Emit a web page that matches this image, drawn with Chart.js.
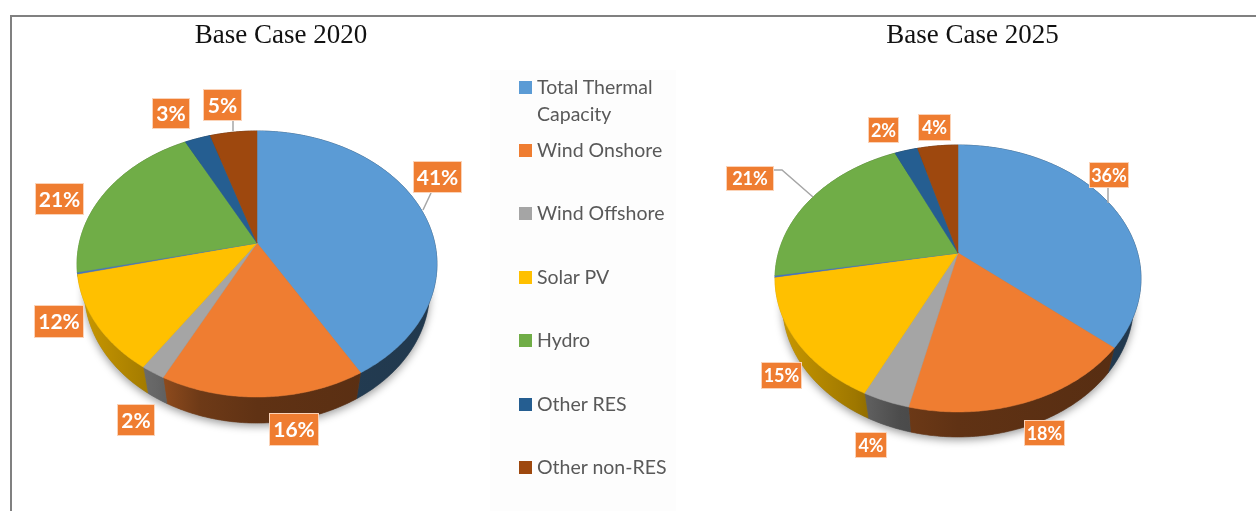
<!DOCTYPE html>
<html>
<head>
<meta charset="utf-8">
<script src="https://cdn.jsdelivr.net/npm/chart.js@4"></script>
<style>
html,body{margin:0;padding:0;background:#fff;width:1256px;height:511px;overflow:hidden}
#frame{position:absolute;left:10px;top:15px;width:1246px;height:496px;border-left:2px solid #808080;border-top:2px solid #808080;box-sizing:border-box}
#legendBg{position:absolute;left:490px;top:70px;width:186px;height:441px;background:#fdfdfd}
canvas{position:absolute;left:0;top:0}
.title{position:absolute;font:27px "Liberation Serif",serif;color:#111;white-space:nowrap;transform:translateX(-50%);line-height:30px}
.sw{position:absolute;left:519px;width:13px;height:13px}
.lg{position:absolute;left:537px;font:19.5px/27px Lato,sans-serif;color:#595959;white-space:nowrap}
</style>
</head>
<body>
<div id="frame"></div>
<div id="legendBg"></div>
<canvas id="c1" width="1256" height="511"></canvas>
<canvas id="c2" width="1256" height="511"></canvas>
<div id="overlay"></div>
<script>
// ---- data ----
const categories = ['Total Thermal Capacity','Wind Onshore','Wind Offshore','Solar PV','(unlabelled sliver)','Hydro','Other RES','Other non-RES'];
const values2020 = [41.6,15.9,1.9,11.9,0.2,20.9,2.7,4.9];
const values2025 = [36.2,17.4,3.5,15.0,0.2,20.95,2.45,4.3];
const labels2020 = ['41%','16%','2%','12%','','21%','3%','5%'];
const labels2025 = ['36%','18%','4%','15%','','21%','2%','4%'];
const colors = ['#5b9bd5','#ef7d31','#a5a5a5','#ffc000','#4472c4','#70ad47','#255e91','#9e480e'];
const titles = ['Base Case 2020','Base Case 2025'];

// ---- layout ----
const boxes2020 = [[413,161,462,193],[269,413,319,446],[117,404,155,436],[34,305,84,338],null,[35,183,84,215],[152,98,190,129],[203,89,242,121]];
const boxes2025 = [[1089,162,1129,188],[1024,420,1065,446],[855,432,887,458],[761,362,802,389],null,[726,166,774,191],[868,117,899,143],[918,114,951,141]];
const leaders2020 = [[[431,193],[423,210]],[[233,121],[233,131]]];
const leaders2025 = [[[1108,188],[1108,203]],[[774,170],[782,170],[813,197]]];
const legendRows = [86,149,212,276,339,403,466];

function rgb(hex,f){
  const n=parseInt(hex.slice(1),16);
  return `rgb(${Math.round((n>>16&255)*f)},${Math.round((n>>8&255)*f)},${Math.round((n&255)*f)})`;
}
const wallStops=[[0,.8],[.22,.62],[.34,.46],[.5,.4],[1,.36]];

const pie3d={
  id:'pie3d',
  beforeDatasetDraw(chart){
    const o=chart.options.plugins.pie3d, ctx=chart.ctx;
    const arcs=chart.getDatasetMeta(0).data;
    const top=a=>{const u=Math.cos(a),v=Math.sin(a),w=1/(1-o.p*v);
      return [o.cx+o.b*u*w,o.cy+o.a*v*w];};
    const low=a=>{const q=top(a);return [o.cx+(q[0]-o.cx)*o.shrink,q[1]+o.depth];};
    const pts=(f,s,e)=>{const n=Math.max(2,Math.ceil((e-s)/0.01)),r=[];
      for(let i=0;i<=n;i++)r.push(f(s+(e-s)*i/n));return r;};
    const trace=l=>l.forEach((q,i)=>i?ctx.lineTo(q[0],q[1]):ctx.moveTo(q[0],q[1]));
    ctx.save();
    // soft shadow under the disc
    ctx.save();
    ctx.shadowColor='rgba(0,0,0,.4)';ctx.shadowBlur=9;ctx.shadowOffsetY=3;ctx.fillStyle='#777';
    ctx.beginPath();trace(pts(low,0,Math.PI*2));ctx.closePath();ctx.fill();
    ctx.restore();
    // side walls
    arcs.forEach((arc,i)=>{
      const s=arc.startAngle,e=arc.endAngle;
      const g=ctx.createLinearGradient(o.cx-o.rx,0,o.cx+o.rx,0);
      wallStops.forEach(t=>g.addColorStop(t[0],rgb(colors[i],t[1])));
      ctx.beginPath();trace(pts(top,s,e).concat(pts(low,s,e).reverse()));ctx.closePath();
      ctx.fillStyle=g;ctx.strokeStyle=g;ctx.lineWidth=.6;ctx.fill();ctx.stroke();
    });
    // top faces
    arcs.forEach((arc,i)=>{
      ctx.beginPath();trace([[o.cx,o.cy]].concat(pts(top,arc.startAngle,arc.endAngle)));ctx.closePath();
      ctx.fillStyle=colors[i];ctx.strokeStyle=colors[i];ctx.lineWidth=.5;ctx.fill();ctx.stroke();
    });
    ctx.restore();
    return false;
  },
  afterDraw(chart){
    const o=chart.options.plugins.pie3d, ctx=chart.ctx;
    ctx.save();
    ctx.strokeStyle='#a6a6a6';ctx.lineWidth=1.5;
    o.leaders.forEach(l=>{ctx.beginPath();l.forEach((q,i)=>i?ctx.lineTo(q[0],q[1]):ctx.moveTo(q[0],q[1]));ctx.stroke();});
    ctx.textAlign='center';ctx.textBaseline='middle';
    ctx.font='bold '+o.font+'px Lato, sans-serif';
    o.boxes.forEach((b,i)=>{
      if(!b)return;
      ctx.fillStyle='#ef7d31';ctx.fillRect(b[0],b[1],b[2]-b[0],b[3]-b[1]);
      ctx.strokeStyle='#fbd3b8';ctx.lineWidth=1;ctx.strokeRect(b[0]+.5,b[1]+.5,b[2]-b[0]-1,b[3]-b[1]-1);
      ctx.fillStyle='#fff';ctx.fillText(o.labels[i],(b[0]+b[2])/2,(b[1]+b[3])/2+1);
    });
    ctx.restore();
  }
};

function makePie(id,values,extra){
  return new Chart(document.getElementById(id),{
    type:'pie',
    data:{labels:categories,datasets:[{data:values,backgroundColor:colors,borderWidth:0}]},
    options:{responsive:false,animation:false,events:[],
      plugins:{legend:{display:false},tooltip:{enabled:false},pie3d:extra}},
    plugins:[pie3d]
  });
}
document.fonts.load('bold 20px Lato').finally(()=>{
  makePie('c1',values2020,{cx:257,cy:243,a:129.7,b:177.7,rx:180,p:.158,depth:26,shrink:.96,
    boxes:boxes2020,leaders:leaders2020,labels:labels2020,font:21});
  makePie('c2',values2025,{cx:958,cy:253,a:128.6,b:179.6,rx:183,p:.191,depth:25,shrink:.96,
    boxes:boxes2025,leaders:leaders2025,labels:labels2025,font:18});
});

// titles and legend as text
const ov=document.getElementById('overlay');
[[281],[972.5]].forEach((c,i)=>{
  const d=document.createElement('div');d.className='title';d.textContent=titles[i];
  d.style.left=c[0]+'px';d.style.top='19px';ov.appendChild(d);
});
const shown=categories.map((n,i)=>[n,colors[i]]).filter((_,i)=>labels2020[i]!=='');
shown.forEach((it,i)=>{
  const y=legendRows[i];
  const s=document.createElement('div');s.className='sw';s.style.background=it[1];s.style.top=(y-5.5)+'px';ov.appendChild(s);
  const t=document.createElement('div');t.className='lg';
  if(i===0){t.innerHTML='Total Thermal<br>Capacity';}else{t.textContent=it[0];}
  t.style.top=(y-13.5)+'px';ov.appendChild(t);
});
</script>
</body>
</html>
